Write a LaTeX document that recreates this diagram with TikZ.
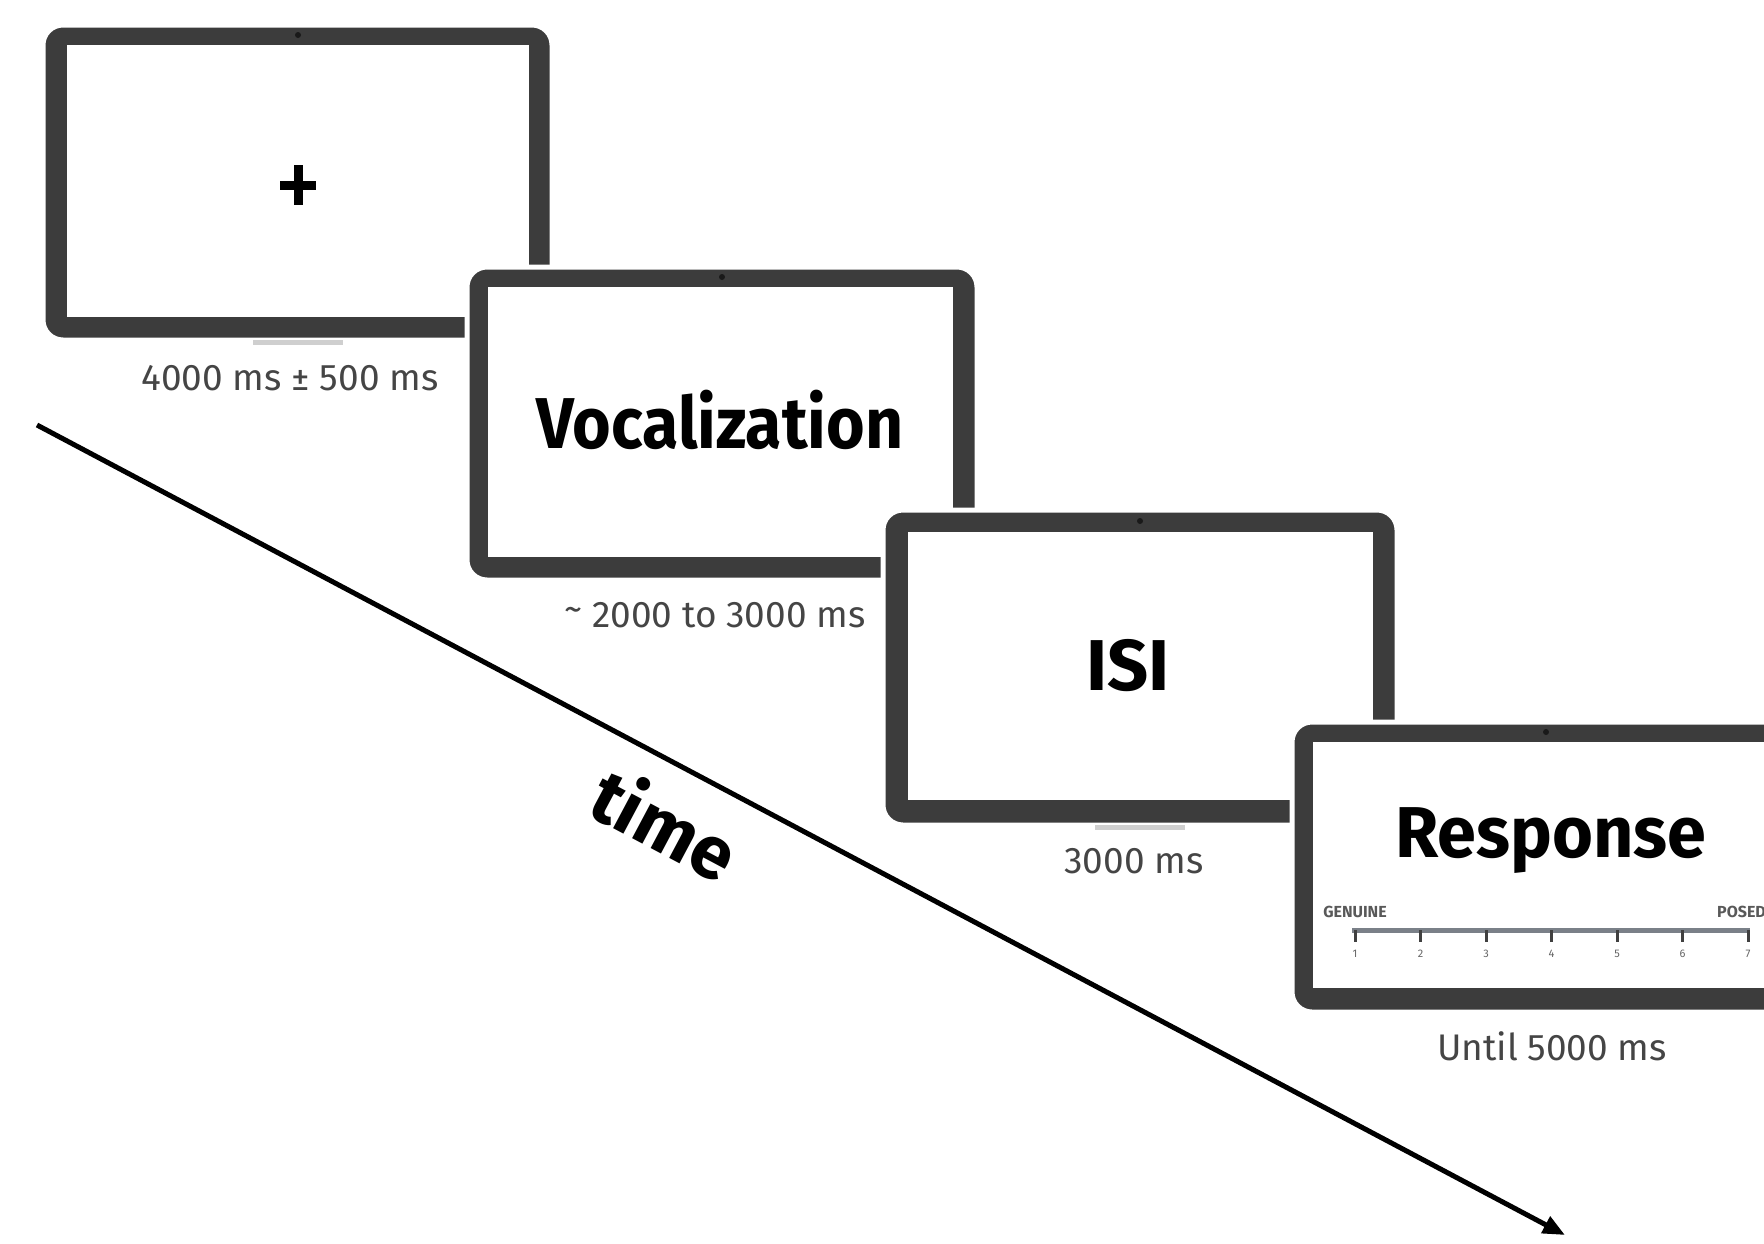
\documentclass[tikz,border=0pt]{standalone}
\usepackage{fontspec}
\setmainfont{Fira Sans}
\usetikzlibrary{arrows.meta}
\definecolor{bez}{HTML}{3C3C3C}
\definecolor{lbl}{HTML}{454545}
\definecolor{scl}{HTML}{7A8088}
\definecolor{stand}{HTML}{CFCFCF}
\begin{document}
\begin{tikzpicture}[x=1pt,y=-1pt,
  screen/.style={fill=bez, draw=white, line width=5pt, rounded corners=20pt, inner sep=0pt, outer sep=0pt},
  display/.style={fill=white, inner sep=0pt, outer sep=0pt},
  title/.style={font=\fontsize{72}{80}\selectfont\bfseries, text=black, inner sep=0pt, anchor=base},
  dur/.style={font=\fontsize{37}{44}\selectfont, text=lbl, inner sep=0pt, anchor=base},
  cam/.style={circle, fill=black!90, inner sep=0pt, minimum size=6pt},
  standbar/.style={fill=stand, inner sep=0pt, minimum height=5pt, minimum width=90pt},
  tick/.style={line width=3pt, draw=black!75},
  num/.style={font=\fontsize{11}{12}\selectfont, text=black!60, inner sep=0pt},
  anchorlbl/.style={font=\fontsize{16}{18}\selectfont\bfseries, text=black!65, inner sep=0pt},
  timearrow/.style={line width=5pt, draw=black, -{Triangle[length=22pt,width=18pt]}}
]
\useasboundingbox (0,0) rectangle (1764,1243);
\clip (0,0) rectangle (1764,1243);

% time arrow
\coordinate (t0) at (37,425);
\coordinate (t1) at (1565,1235);
\draw[timearrow] (t0) -- (t1);
\node[font=\fontsize{74}{80}\selectfont\bfseries, rotate=-28, inner sep=0pt] (time) at (666,823) {time};

% screen 1
\node[screen, minimum width=509pt, minimum height=315pt] (s1) at (297.5,182.5) {};
\node[display, minimum width=462pt, minimum height=272pt] (d1) at (298,181) {};
\node[standbar] (st1) at (298,342) {};
\node[cam] (c1) at (298,35) {};
\node (fix) at (298,185) {};
\draw[line width=9pt, draw=black, shift={(fix)}] (-18,0) -- (18,0) (0,-20) -- (0,20);
\node[dur] (l1) at (290,390) {4000 ms ± 500 ms};

% screen 2
\node[screen, minimum width=510pt, minimum height=313pt] (s2) at (722,423.5) {};
\node[display, minimum width=465pt, minimum height=270pt] (d2) at (720.5,422) {};
\node[cam] (c2) at (722,277) {};
\node[title] (v) at (720,448) {\scalebox{0.92}[1]{Vocalization}};
\node[dur] (l2) at (715,627) {\raisebox{0.3ex}{\textasciitilde}{} 2000 to 3000 ms};

% screen 3
\node[screen, minimum width=514pt, minimum height=315pt] (s3) at (1140,667.5) {};
\node[display, minimum width=465pt, minimum height=268pt] (d3) at (1140.5,666) {};
\node[standbar] (st3) at (1140,827) {};
\node[cam] (c3) at (1140,521) {};
\node[title] (isi) at (1128,690) {ISI};
\node[dur] (l3) at (1134,873) {3000 ms};

% screen 4
\node[screen, minimum width=510pt, minimum height=290pt] (s4) at (1547,867) {};
\node[display, minimum width=467pt, minimum height=246pt] (d4) at (1546.5,865) {};
\node[cam] (c4) at (1546,732) {};
\node[title] (resp) at (1551,857) {\scalebox{0.975}[1]{Response}};
\node[dur] (l4) at (1552,1060) {Until 5000 ms};

% rating scale
\coordinate (sa) at (1352,930);
\coordinate (sb) at (1750,930);
\draw[line width=5pt, draw=scl] (sa) -- (sb);
\foreach \i in {1,...,7} {
  \coordinate (k\i) at ({1355+65.5*(\i-1)},930);
  \draw[tick] (k\i) -- ++(0,12);
  \node[num] (n\i) at ({1355+65.5*(\i-1)},954) {\i};
}
\node[anchorlbl] (gen) at (1355,912) {GENUINE};
\node[anchorlbl, anchor=west] (pos) at (1717,912) {POSED};
\end{tikzpicture}
\end{document}
